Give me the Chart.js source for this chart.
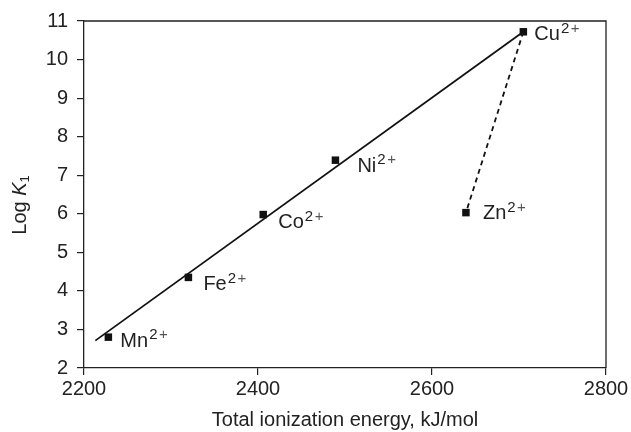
<!DOCTYPE html>
<html>
<head>
<meta charset="utf-8">
<script src="https://cdn.jsdelivr.net/npm/chart.js@4.4.1/dist/chart.umd.min.js"></script>
<style>
  html, body { margin: 0; padding: 0; background: #fff; }
  #wrap { width: 631px; height: 432px; }
</style>
</head>
<body>
<div id="wrap"><canvas id="ionChart" width="631" height="432"></canvas></div>
<script>
// Data
const ions = ["Mn", "Fe", "Co", "Ni", "Cu", "Zn"];
const ionizationEnergy = [2228, 2320, 2406, 2489, 2705, 2639];
const logK1 = [2.8, 4.35, 5.98, 7.39, 10.72, 6.03];

// straight fit line and the dashed Cu -> Zn link
const fitEnergy = [2213, 2705];
const fitLogK = [2.71, 10.72];
const dashIons = ["Cu", "Zn"];

const xTicks = [2200, 2400, 2600, 2800];
const yTicks = [2, 3, 4, 5, 6, 7, 8, 9, 10, 11];

// label placement (pixels from the marker)
const labelOffsets = {
  Mn: [12, 4], Fe: [15, 7], Co: [15, 8], Ni: [22, 6], Cu: [11, 3], Zn: [17, 1],
};

const FONT = '"Liberation Sans", Arial, Helvetica, sans-serif';
const INK = "#222";

const points = ions.map((n, i) => ({ x: ionizationEnergy[i], y: logK1[i] }));
const fitLine = fitEnergy.map((e, i) => ({ x: e, y: fitLogK[i] }));
const dashLine = dashIons.map((n) => {
  const i = ions.indexOf(n);
  return { x: ionizationEnergy[i], y: logK1[i] };
});

const annotations = {
  id: "annotations",
  afterDraw(chart) {
    const { ctx, chartArea, scales } = chart;
    ctx.save();

    // frame top and right
    ctx.strokeStyle = INK;
    ctx.lineWidth = 1.3;
    ctx.beginPath();
    ctx.moveTo(chartArea.left, chartArea.top);
    ctx.lineTo(chartArea.right, chartArea.top);
    ctx.lineTo(chartArea.right, chartArea.bottom);
    ctx.stroke();

    // ion labels with superscript 2+
    ctx.fillStyle = INK;
    ctx.textBaseline = "middle";
    ctx.textAlign = "left";
    ions.forEach((n, i) => {
      const px = scales.x.getPixelForValue(ionizationEnergy[i]);
      const py = scales.y.getPixelForValue(logK1[i]);
      const off = labelOffsets[n];
      const lx = px + off[0];
      const ly = py + off[1];
      ctx.font = "20px " + FONT;
      ctx.fillText(n, lx, ly);
      const w = ctx.measureText(n).width;
      ctx.font = "15px " + FONT;
      ctx.fillText("2", lx + w + 1, ly - 6);
      const w2 = ctx.measureText("2").width;
      ctx.fillStyle = "#555";
      ctx.fillText("+", lx + w + w2 + 2.5, ly - 6);
      ctx.fillStyle = INK;
    });

    // x axis title
    ctx.font = "20px " + FONT;
    ctx.textAlign = "center";
    ctx.fillText("Total ionization energy, kJ/mol", (chartArea.left + chartArea.right) / 2, 420);

    // y axis title: Log K1 with italic K and subscript 1
    ctx.translate(20, 205);
    ctx.rotate(-Math.PI / 2);
    ctx.textAlign = "left";
    ctx.font = "20px " + FONT;
    const a = "Log ";
    const wa = ctx.measureText(a).width;
    ctx.font = "italic 20px " + FONT;
    const wk = ctx.measureText("K").width;
    ctx.font = "13px " + FONT;
    const ws = ctx.measureText("1").width;
    let sx = -(wa + wk + ws) / 2;
    ctx.font = "20px " + FONT;
    ctx.fillText(a, sx, 0);
    sx += wa;
    ctx.font = "italic 20px " + FONT;
    ctx.fillText("K", sx, 0);
    sx += wk;
    ctx.font = "13px " + FONT;
    ctx.fillText("1", sx, 5);

    ctx.restore();
  },
};

new Chart(document.getElementById("ionChart"), {
  type: "scatter",
  data: {
    datasets: [
      {
        label: "Ions",
        data: points,
        pointStyle: "rect",
        pointRadius: 5.3,
        pointHoverRadius: 5.3,
        backgroundColor: "#111",
        borderColor: "#111",
        borderWidth: 0,
      },
      {
        label: "Fit",
        data: fitLine,
        showLine: true,
        borderColor: "#111",
        borderWidth: 1.8,
        pointRadius: 0,
        fill: false,
      },
      {
        label: "Cu-Zn",
        data: dashLine,
        showLine: true,
        borderColor: "#111",
        borderWidth: 1.8,
        borderDash: [5, 4],
        pointRadius: 0,
        fill: false,
      },
    ],
  },
  options: {
    responsive: false,
    animation: false,
    layout: {
      padding: { left: 0, right: 25, top: 19, bottom: 0 },
    },
    plugins: {
      legend: { display: false },
      tooltip: { enabled: false },
    },
    scales: {
      x: {
        type: "linear",
        min: 2200,
        max: 2800,
        afterBuildTicks: (scale) => {
          scale.ticks = xTicks.map((v) => ({ value: v }));
        },
        afterFit: (scale) => {
          scale.height = 64;
        },
        ticks: {
          color: INK,
          padding: 2,
          font: { family: FONT, size: 20 },
          callback: (v) => String(v),
        },
        grid: {
          drawOnChartArea: false,
          drawTicks: true,
          tickLength: 7,
          color: INK,
          lineWidth: 1.2,
        },
        border: { display: true, color: INK, width: 1.3 },
      },
      y: {
        type: "linear",
        min: 2,
        max: 11,
        afterBuildTicks: (scale) => {
          scale.ticks = yTicks.map((v) => ({ value: v }));
        },
        afterFit: (scale) => {
          scale.width = 84;
        },
        ticks: {
          color: INK,
          padding: 9,
          font: { family: FONT, size: 20 },
          callback: (v) => String(v),
        },
        grid: {
          drawOnChartArea: false,
          drawTicks: true,
          tickLength: 7,
          color: INK,
          lineWidth: 1.2,
        },
        border: { display: true, color: INK, width: 1.3 },
      },
    },
  },
  plugins: [annotations],
});
</script>
</body>
</html>
